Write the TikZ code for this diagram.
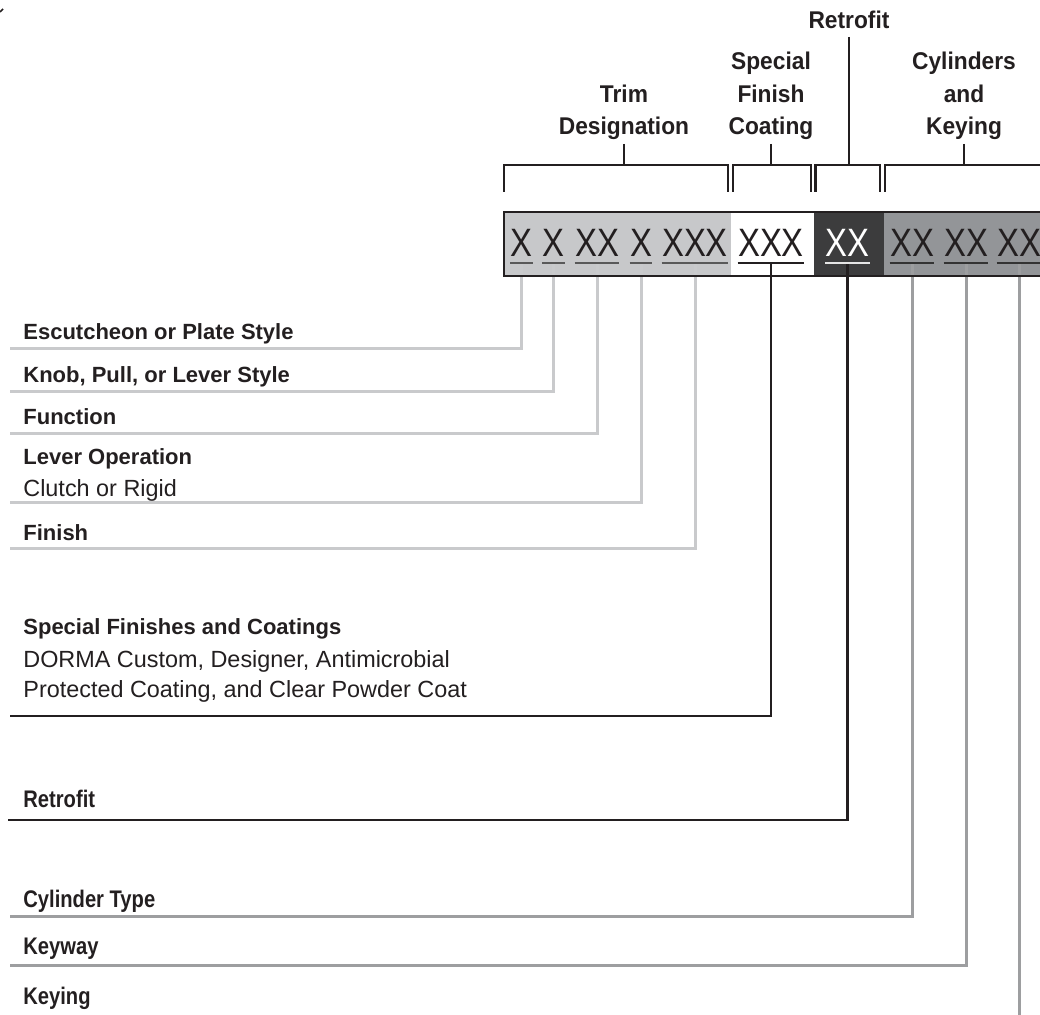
\documentclass[tikz,border=0pt]{standalone}
\usepackage{fontspec}
\setmainfont{Liberation Sans}
\newfontfamily\headfont[FakeStretch=0.94]{Liberation Sans}
\newfontfamily\condfont[FakeStretch=0.84]{Liberation Sans}
\newfontfamily\xfont[FakeStretch=0.83]{Liberation Sans}
\usepackage{tikz}
\usetikzlibrary{positioning}
\definecolor{inkblack}{HTML}{231F20}
\definecolor{trimgray}{HTML}{C7C8CA}
\definecolor{retrodark}{HTML}{3C3C3D}
\definecolor{cylgray}{HTML}{939598}
\definecolor{trimlead}{HTML}{C9CACC}
\definecolor{cyllead}{HTML}{9D9EA0}
\tikzset{
	x=0.5pt, y=-0.5pt, % one unit is one pixel, y runs down the page
	heading/.style={font=\headfont\bfseries\fontsize{12.1}{16.25}\selectfont, align=center, anchor=south, inner sep=0pt, outer sep=2pt, text=inkblack}, % group titles above the brackets
	bracket/.style={draw=inkblack, line width=1.2pt}, % brackets and their stems
	xgroup/.style={font=\xfont\fontsize{19.8}{20}\selectfont, anchor=base, inner sep=0pt}, % the X X XX ... code letters
	desc/.style={font=\bfseries\fontsize{11}{13}\selectfont, anchor=base west, inner sep=0pt, text=inkblack}, % bold descriptions
	descc/.style={font=\condfont\bfseries\fontsize{12}{14}\selectfont, anchor=base west, inner sep=0pt, text=inkblack}, % narrow bold descriptions
	subdesc/.style={font=\fontsize{11.7}{14}\selectfont, anchor=base west, inner sep=0pt, text=inkblack}, % plain second lines
	trimline/.style={draw=trimlead, line width=1.5pt}, % leaders of the trim part
	darkline/.style={draw=inkblack, line width=1.3pt}, % leaders of coating and retrofit
	cylline/.style={draw=cyllead, line width=1.5pt}, % leaders of cylinders and keying
	ul/.style={line width=0.65pt}, % underline below a code group
}
\begin{document}
\begin{tikzpicture}
	\useasboundingbox (0,0) rectangle (1040,1015);
	\draw[inkblack, line width=0.8pt] (0,12) -- (3,9);

	% the code box
	\fill[trimgray] (504,212) rectangle (731,276);
	\fill[white] (731,212) rectangle (814,276);
	\fill[retrodark] (814,212) rectangle (884,276);
	\fill[cylgray] (884,212) rectangle (1048,276);

	% code groups
	\node[xgroup, text=inkblack] (esc) at (521.5,256.7) {X};
	\node[xgroup, text=inkblack] (knob) at (553.5,256.7) {X};
	\node[xgroup, text=inkblack] (func) at (597,256.7) {XX};
	\node[xgroup, text=inkblack] (lever) at (641,256.7) {X};
	\node[xgroup, text=inkblack] (fin) at (695,256.7) {XXX};
	\node[xgroup, text=inkblack] (spec) at (771,256.7) {XXX};
	\node[xgroup, text=white] (retro) at (847.5,256.7) {XX};
	\node[xgroup, text=inkblack] (cyl) at (912,256.7) {XX};
	\node[xgroup, text=inkblack] (keyw) at (966,256.7) {XX};
	\node[xgroup, text=inkblack] (keyi) at (1019,256.7) {XX};

	% headings and brackets
	\node[heading] (trimT) at (624,144) {Trim\\Designation};
	\node[heading] (specT) at (771,144) {Special\\Finish\\Coating};
	\node[heading, outer sep=4pt] (retroT) at (849,37) {Retrofit};
	\node[heading] (cylT) at (964,144) {Cylinders\\and\\Keying};
	\coordinate (trimB) at (624,165);
	\coordinate (specB) at (771,165);
	\coordinate (retroB) at (849,165);
	\coordinate (cylB) at (964,165);
	\draw[bracket] (504,192) |- (728,165) -- (728,192);
	\draw[bracket] (733,192) |- (811,165) -- (811,192);
	\draw[bracket] (815.5,192) |- (880,165) -- (880,192);
	\draw[bracket] (885,192) |- (1048,165);
	\draw[bracket] (trimT) -- (trimB);
	\draw[bracket] (specT) -- (specB);
	\draw[bracket] (retroT) -- (retroB);
	\draw[bracket] (cylT) -- (cylB);

	% descriptions
	\node[desc] (escL) at (23,340) {Escutcheon or Plate Style};
	\node[desc] (knobL) at (23,383) {Knob, Pull, or Lever Style};
	\node[desc] (funcL) at (23,425) {Function};
	\node[desc] (leverL) at (23,465) {Lever Operation};
	\node[subdesc, below=16pt of leverL.base west, anchor=base west] (leverS) {Clutch or Rigid};
	\node[desc] (finL) at (23,541) {Finish};
	\node[desc] (specL) at (23,635) {Special Finishes and Coatings};
	\node[subdesc, below=16.5pt of specL.base west, anchor=base west] (specS) {DORMA Custom, Designer, Antimicrobial};
	\node[subdesc, below=15pt of specS.base west, anchor=base west] (specS2) {Protected Coating, and Clear Powder Coat};
	\node[descc] (retroL) at (23,808) {Retrofit};
	\node[descc] (cylL) at (23,908) {Cylinder Type};
	\node[descc] (keywL) at (23,955) {Keyway};
	\node[descc] (keyiL) at (23,1005) {Keying};

	% leader ends
	\coordinate (escE) at (10,349);
	\coordinate (knobE) at (10,392);
	\coordinate (funcE) at (10,434);
	\coordinate (leverE) at (10,503);
	\coordinate (finE) at (10,549);
	\coordinate (specE) at (10,716);
	\coordinate (retroE) at (8,820);
	\coordinate (cylE) at (10,917);
	\coordinate (keywE) at (10,966);
	\coordinate (keyiE) at (10,1016.5);

	% leaders
	\draw[trimline] ([yshift=-3.2pt]esc.base) |- (escE);
	\draw[trimline] ([yshift=-3.2pt]knob.base) |- (knobE);
	\draw[trimline] ([yshift=-3.2pt]func.base) |- (funcE);
	\draw[trimline] ([yshift=-3.2pt]lever.base) |- (leverE);
	\draw[trimline] ([yshift=-3.2pt]fin.base) |- (finE);
	\draw[darkline] ([yshift=-3.2pt]spec.base) |- (specE);
	\draw[darkline] ([yshift=-3.2pt]retro.base) |- (retroE);
	\draw[cylline] ([yshift=-3.2pt]cyl.base) |- (cylE);
	\draw[cylline] ([yshift=-3.2pt]keyw.base) |- (keywE);
	\draw[cylline] ([yshift=-3.2pt]keyi.base) |- (keyiE);

	% border of the box
	\draw[inkblack, line width=1.25pt] (504,212) rectangle (1048,276);

	% underlines
	\foreach \g/\c in {esc/black!65, knob/black!65, func/black!65, lever/black!65, fin/black!65, spec/inkblack, retro/black!10, cyl/black!80, keyw/black!80, keyi/black!80}
		\draw[ul, draw=\c] ([yshift=-3.2pt]\g.base west) -- ([yshift=-3.2pt]\g.base east);
\end{tikzpicture}
\end{document}
